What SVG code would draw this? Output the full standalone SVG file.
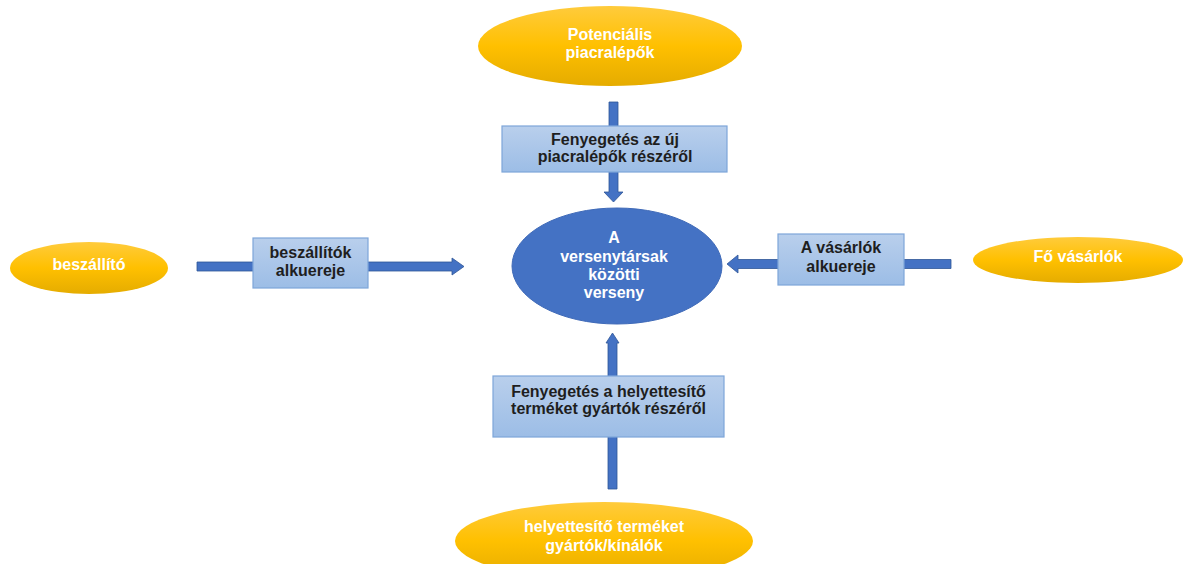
<svg xmlns="http://www.w3.org/2000/svg" width="1183" height="564" viewBox="0 0 1183 564">
<defs>
<linearGradient id="gold" x1="0" y1="0" x2="0" y2="1">
<stop offset="0" stop-color="#FFCB3C"/>
<stop offset="0.5" stop-color="#FFC000"/>
<stop offset="1" stop-color="#E5AC00"/>
</linearGradient>
<linearGradient id="blue" x1="0" y1="0" x2="0" y2="1">
<stop offset="0" stop-color="#B9CFEC"/>
<stop offset="1" stop-color="#9CBDE6"/>
</linearGradient>
<style>
.gold{fill:url(#gold);}
.box{fill:url(#blue);stroke:#7EA6D9;stroke-width:1.2;}
.center{fill:#4472C4;stroke:#3F6AB8;stroke-width:1;}
.arrow{fill:#4472C4;stroke:#2F5597;stroke-width:0.8;}
text{font-family:"Liberation Sans",Arial,sans-serif;font-weight:bold;font-size:16px;text-anchor:middle;}
.w{fill:#FFFFFF;}
.d{fill:#1E1E1E;}
</style>
</defs>
<rect width="1183" height="564" fill="#FFFFFF"/>
<g id="connectors">
<polygon class="arrow" points="609,102 618,102 618,192 623,192 613.5,202 604,192 609,192"/>
<polygon class="arrow" points="197,262 452,262 452,258 464,266.5 452,275 452,271 197,271"/>
<polygon class="arrow" points="951,259.5 738,259.5 738,255 727,264 738,273 738,268.5 951,268.5"/>
<polygon class="arrow" points="608,489 617,489 617,343 619,343 612.5,333 606,343 608,343"/>
</g>
<g id="potencialis">
<ellipse class="gold" cx="610" cy="46" rx="132" ry="40"/>
<text class="w" x="610" y="40">Potenciális</text>
<text class="w" x="610" y="58">piacralépők</text>
</g>
<g id="fenyegetes-uj">
<rect class="box" x="502" y="126" width="225" height="46"/>
<text class="d" x="615" y="145">Fenyegetés az új</text>
<text class="d" x="615" y="162">piacralépők részéről</text>
</g>
<g id="beszallito">
<ellipse class="gold" cx="89" cy="268" rx="79" ry="26"/>
<text class="w" x="89" y="270">beszállító</text>
</g>
<g id="beszallitok-alkuereje">
<rect class="box" x="253" y="238" width="115" height="50"/>
<text class="d" x="310.5" y="258">beszállítók</text>
<text class="d" x="310.5" y="276">alkuereje</text>
</g>
<g id="verseny">
<ellipse class="center" cx="617" cy="266" rx="105" ry="58"/>
<text class="w" x="614" y="243">A</text>
<text class="w" x="614" y="262">versenytársak</text>
<text class="w" x="614" y="280">közötti</text>
<text class="w" x="614" y="298">verseny</text>
</g>
<g id="vasarlok-alkuereje">
<rect class="box" x="778" y="234" width="126" height="51"/>
<text class="d" x="841" y="253">A vásárlók</text>
<text class="d" x="841" y="272">alkuereje</text>
</g>
<g id="fo-vasarlok">
<ellipse class="gold" cx="1078" cy="260" rx="105" ry="23"/>
<text class="w" x="1078" y="262">Fő vásárlók</text>
</g>
<g id="fenyegetes-helyettesito">
<rect class="box" x="493" y="376" width="231" height="61"/>
<text class="d" x="608.5" y="397">Fenyegetés a helyettesítő</text>
<text class="d" x="608.5" y="414">terméket gyártók részéről</text>
</g>
<g id="helyettesito">
<ellipse class="gold" cx="604" cy="541" rx="149" ry="39"/>
<text class="w" x="604" y="532">helyettesítő terméket</text>
<text class="w" x="604" y="551">gyártók/kínálók</text>
</g>
</svg>
